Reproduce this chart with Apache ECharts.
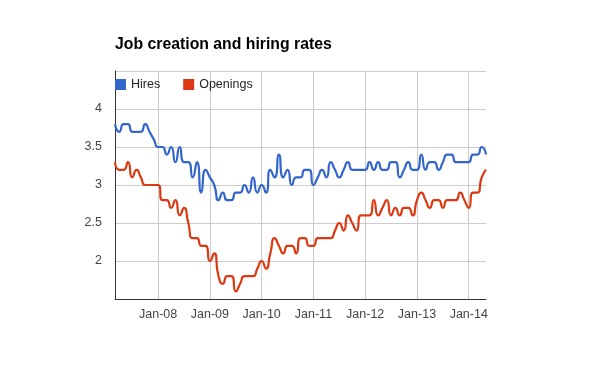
<!DOCTYPE html>
<html>
<head>
<meta charset="utf-8">
<script src="https://cdn.jsdelivr.net/npm/echarts@6/dist/echarts.min.js"></script>
<style>html,body{margin:0;padding:0;background:#fff}#c{width:600px;height:371px}</style>
</head>
<body>
<div id="c"></div>
<script>
var months = ['Mar-07','Apr-07','May-07','Jun-07','Jul-07','Aug-07','Sep-07','Oct-07','Nov-07','Dec-07',
'Jan-08','Feb-08','Mar-08','Apr-08','May-08','Jun-08','Jul-08','Aug-08','Sep-08','Oct-08','Nov-08','Dec-08',
'Jan-09','Feb-09','Mar-09','Apr-09','May-09','Jun-09','Jul-09','Aug-09','Sep-09','Oct-09','Nov-09','Dec-09',
'Jan-10','Feb-10','Mar-10','Apr-10','May-10','Jun-10','Jul-10','Aug-10','Sep-10','Oct-10','Nov-10','Dec-10',
'Jan-11','Feb-11','Mar-11','Apr-11','May-11','Jun-11','Jul-11','Aug-11','Sep-11','Oct-11','Nov-11','Dec-11',
'Jan-12','Feb-12','Mar-12','Apr-12','May-12','Jun-12','Jul-12','Aug-12','Sep-12','Oct-12','Nov-12','Dec-12',
'Jan-13','Feb-13','Mar-13','Apr-13','May-13','Jun-13','Jul-13','Aug-13','Sep-13','Oct-13','Nov-13','Dec-13',
'Jan-14','Feb-14','Mar-14','Apr-14','May-14'];

var hires = [3.8,3.7,3.8,3.8,3.7,3.7,3.7,3.8,3.7,3.6,
3.5,3.5,3.4,3.5,3.3,3.5,3.3,3.3,3.1,3.3,2.9,3.2,
3.1,3.0,2.8,2.9,2.8,2.8,2.9,2.9,3.0,2.9,3.1,2.9,
3.0,2.9,3.2,3.1,3.4,3.1,3.2,3.0,3.1,3.1,3.2,3.2,
3.0,3.1,3.2,3.1,3.3,3.2,3.1,3.2,3.3,3.2,3.2,3.2,
3.2,3.3,3.2,3.3,3.2,3.2,3.3,3.3,3.1,3.2,3.3,3.2,
3.2,3.4,3.2,3.3,3.3,3.2,3.3,3.4,3.4,3.3,3.3,3.3,
3.3,3.4,3.4,3.5,3.4];

var openings = [3.3,3.2,3.2,3.3,3.1,3.2,3.1,3.0,3.0,3.0,
3.0,2.8,2.8,2.7,2.8,2.6,2.7,2.5,2.3,2.3,2.2,2.2,
2.0,2.1,1.8,1.7,1.8,1.8,1.6,1.7,1.8,1.8,1.8,1.9,
2.0,1.9,2.1,2.3,2.2,2.1,2.2,2.2,2.1,2.3,2.3,2.2,
2.2,2.3,2.3,2.3,2.3,2.4,2.5,2.4,2.6,2.5,2.4,2.6,
2.6,2.6,2.8,2.6,2.7,2.8,2.6,2.7,2.6,2.7,2.7,2.6,
2.8,2.9,2.8,2.7,2.8,2.8,2.7,2.8,2.8,2.8,2.9,2.8,
2.7,2.9,2.9,3.1,3.2];

var yLabels = ['2','2.5','3','3.5','4'];

var chart = echarts.init(document.getElementById('c'), null, {renderer:'canvas'});
var isJan = function (idx) { return months[idx].indexOf('Jan') === 0; };
chart.setOption({
  animation: false,
  textStyle: {fontFamily: 'Liberation Sans, Arial, sans-serif'},
  title: {
    text: 'Job creation and hiring rates',
    left: 115, top: 37, padding: 0,
    textStyle: {fontSize: 15.8, fontWeight: 'bold', color: '#000', fontFamily: 'Liberation Sans, Arial, sans-serif'}
  },
  legend: {
    left: 115, top: 78, padding: 0,
    icon: 'rect', itemWidth: 11, itemHeight: 11, itemGap: 23, itemTextGap: 6,
    textStyle: {fontSize: 12.5, color: '#222'},
    data: ['Hires', 'Openings']
  },
  grid: {left: 115, right: 114, top: 71, bottom: 72},
  xAxis: {
    type: 'category', data: months, boundaryGap: false,
    axisLine: {show: true, lineStyle: {color: '#333', width: 1}},
    axisTick: {show: false},
    axisLabel: {interval: function (i) { return isJan(i); }, color: '#444', fontSize: 12.5, margin: 9},
    splitLine: {show: true, interval: function (i) { return isJan(i); }, lineStyle: {color: '#ccc', width: 1}}
  },
  yAxis: {
    type: 'value', min: 1.5, max: 4.5, interval: 0.5,
    axisLine: {show: true, lineStyle: {color: '#333', width: 1}},
    axisTick: {show: false},
    axisLabel: {color: '#444', fontSize: 12.5, margin: 13,
      formatter: function (v) { var s = String(v); return yLabels.indexOf(s) >= 0 ? s : ''; }},
    splitLine: {show: true, lineStyle: {color: '#ccc', width: 1}}
  },
  series: [
    {name: 'Hires', type: 'line', data: hires, smooth: 0.65, showSymbol: false, symbol: 'none',
      lineStyle: {color: '#3366cc', width: 2.2}, itemStyle: {color: '#3366cc'}},
    {name: 'Openings', type: 'line', data: openings, smooth: 0.65, showSymbol: false, symbol: 'none',
      lineStyle: {color: '#dc3912', width: 2.2}, itemStyle: {color: '#dc3912'}}
  ]
});
</script>
</body>
</html>
